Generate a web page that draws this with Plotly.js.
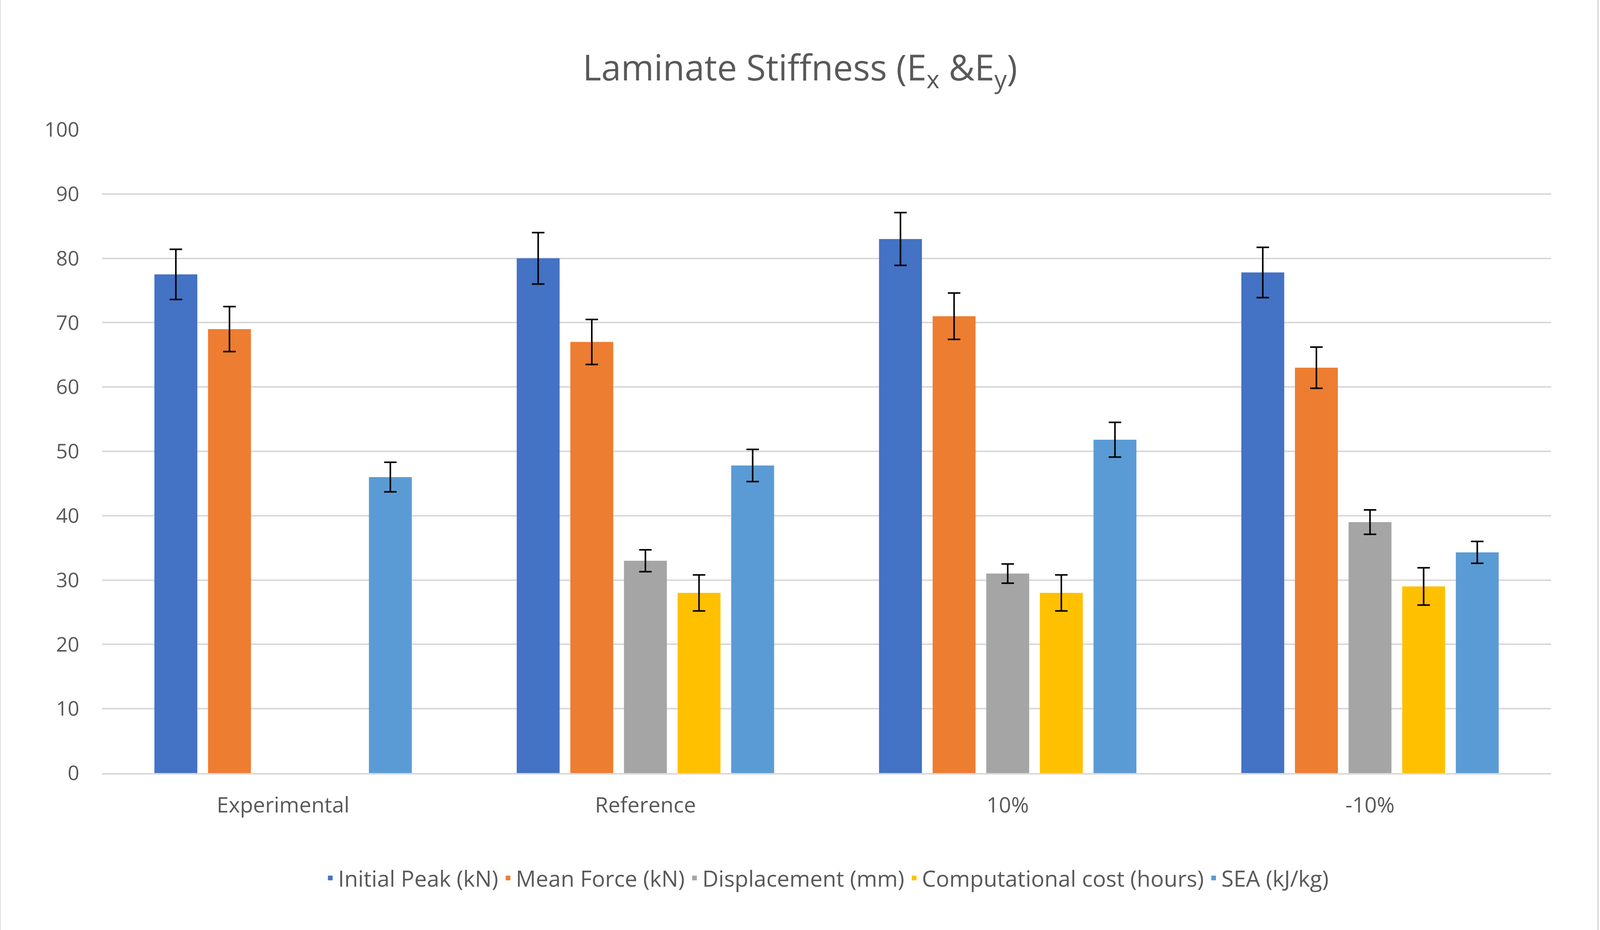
<!DOCTYPE html>
<html>
<head>
<meta charset="utf-8">
<script src="https://cdn.plot.ly/plotly-3.0.1.min.js"></script>
<style>
html, body { margin: 0; padding: 0; background: #fff; overflow: hidden; width: 100%; height: 100%; }
#chart { position: absolute; left: 0; top: 0; width: 100vw; height: 100vh; }
</style>
</head>
<body>
<div id="chart"></div>
<script>
var categories = ['Experimental', 'Reference', '10%', '-10%'];

var initialPeak = [77.5, 80, 83, 77.8];
var initialPeakErr = [3.9, 4, 4.1, 3.9];
var meanForce = [69, 67, 71, 63];
var meanForceErr = [3.5, 3.5, 3.6, 3.2];
var displacement = [null, 33, 31, 39];
var displacementErr = [null, 1.7, 1.5, 1.9];
var compCost = [null, 28, 28, 29];
var compCostErr = [null, 2.8, 2.8, 2.9];
var sea = [46, 47.8, 51.8, 34.3];
var seaErr = [2.3, 2.5, 2.7, 1.7];

function series(name, y, err, color) {
    return {
        x: categories,
        y: y,
        name: name,
        type: 'bar',
        marker: { color: color },
        error_y: { type: 'data', array: err, visible: true, color: '#000', thickness: 4, width: 16 }
    };
}

var data = [
    series('Initial Peak (kN)', initialPeak, initialPeakErr, '#4472C4'),
    series('Mean Force (kN)', meanForce, meanForceErr, '#ED7D31'),
    series('Displacement (mm)', displacement, displacementErr, '#A5A5A5'),
    series('Computational cost (hours)', compCost, compCostErr, '#FFC000'),
    series('SEA (kJ/kg)', sea, seaErr, '#5B9BD5')
];

var W = window.innerWidth, H = window.innerHeight;
var s = W / 1568;

var layout = {
    width: W,
    height: H,
    autosize: false,
    paper_bgcolor: '#fff',
    plot_bgcolor: '#fff',
    font: { family: 'Open Sans, sans-serif', color: '#595959', size: Math.round(20 * s) },
    title: {
        text: 'Laminate Stiffness (E<sub>x</sub> &E<sub>y</sub>)',
        font: { size: Math.round(35 * s), color: '#595959' },
        x: 0.5, xanchor: 'center', y: 1 - 65 / 887, yanchor: 'middle'
    },
    margin: { l: Math.round(100 * s), r: Math.round(48 * s), t: Math.round(127 * s), b: Math.round(154 * s), pad: 0 },
    barmode: 'group',
    bargap: 0.26,
    bargroupgap: 0.2,
    xaxis: {
        type: 'category',
        showline: true,
        linecolor: '#d9d9d9',
        linewidth: Math.round(1.5 * s),
        ticks: '',
        tickfont: { size: Math.round(21 * s), color: '#595959' },
        ticklabelstandoff: Math.round(12 * s)
    },
    yaxis: {
        range: [0, 100],
        dtick: 10,
        showgrid: true,
        gridcolor: '#d9d9d9',
        gridwidth: Math.round(1.5 * s),
        zeroline: false,
        showline: false,
        ticks: '',
        tickfont: { size: Math.round(20 * s), color: '#595959' },
        ticklabelstandoff: Math.round(22 * s)
    },
    legend: {
        orientation: 'h',
        x: 0.5, xanchor: 'center',
        y: -(832 - 733) / (733 - 127), yanchor: 'middle',
        font: { size: Math.round(22 * s), color: '#595959' }
    },
    shapes: [{
        type: 'rect', xref: 'paper', yref: 'paper',
        x0: -100 / 1420, x1: 1 + 46 / 1420, y0: -(885 - 733) / 606, y1: 1 + 125 / 606,
        line: { color: '#d9d9d9', width: Math.round(1.5 * s) }
    }],
    showlegend: true
};

Plotly.newPlot('chart', data, layout, { displayModeBar: false, staticPlot: true });
</script>
</body>
</html>
